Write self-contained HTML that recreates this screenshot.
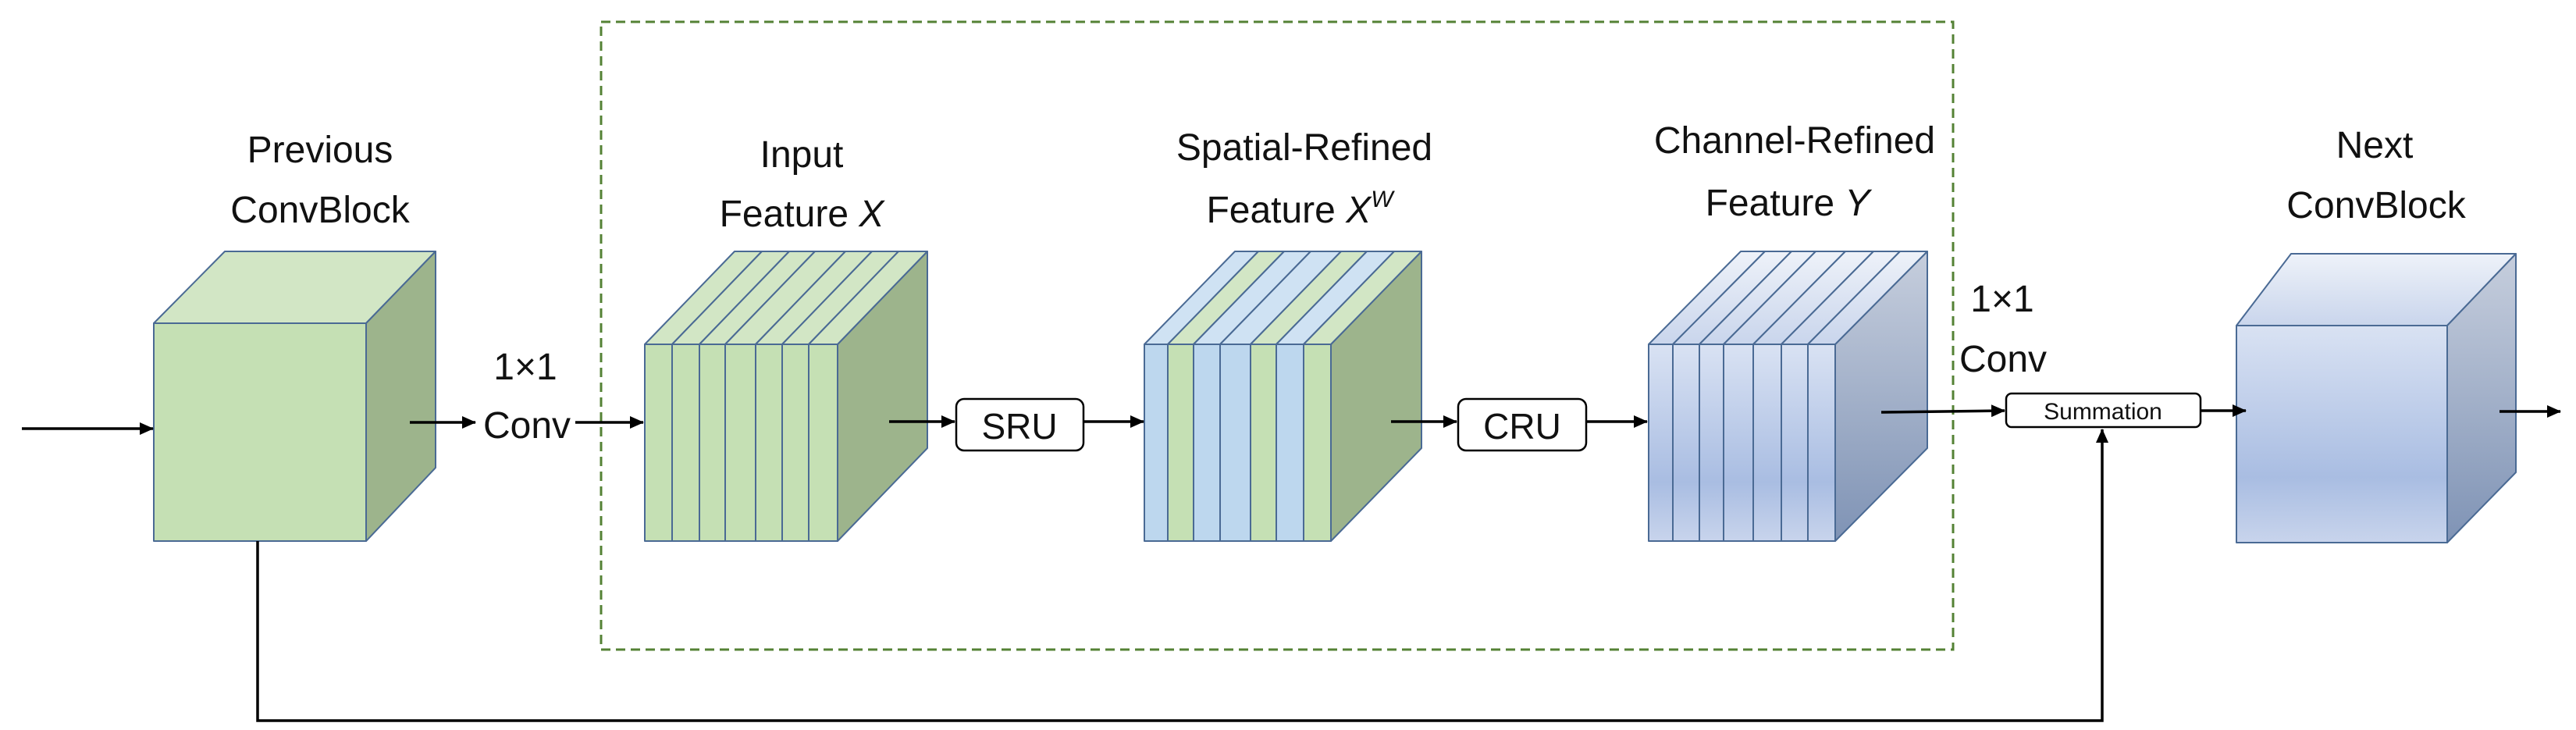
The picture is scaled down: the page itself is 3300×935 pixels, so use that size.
<!DOCTYPE html>
<html><head><meta charset="utf-8"><style>
html,body{margin:0;padding:0;background:#fff;}
svg{display:block;}
text{font-family:"Liberation Sans",sans-serif;fill:#111;}
</style></head><body>
<svg width="3300" height="935" viewBox="0 0 3300 935" xmlns="http://www.w3.org/2000/svg">
<defs>
<marker id="ah" markerWidth="18" markerHeight="16" refX="17" refY="8" orient="auto" markerUnits="userSpaceOnUse" viewBox="0 0 18 16">
<path d="M0,0 L18,8 L0,16 z" fill="#000"/></marker>
<linearGradient id="bf" x1="0" y1="0" x2="0" y2="1">
<stop offset="0" stop-color="#d9e2f3"/><stop offset="0.7" stop-color="#a9bde2"/><stop offset="1" stop-color="#c8d4ec"/></linearGradient>
<linearGradient id="bt" x1="0" y1="1" x2="0" y2="0">
<stop offset="0" stop-color="#c9d5ec"/><stop offset="1" stop-color="#eef2f9"/></linearGradient>
<linearGradient id="br" x1="0" y1="0" x2="0" y2="1">
<stop offset="0" stop-color="#c6cedd"/><stop offset="1" stop-color="#7f93b5"/></linearGradient>
</defs>
<g stroke="#4a6a94" stroke-width="2" stroke-linejoin="round">
<polygon points="197,414 288,322 558,322 469,414" fill="#d2e6c5"/>
<polygon points="469,414 558,322 558,599 469,693" fill="#9db48c"/>
<rect x="197" y="414" width="272" height="279" fill="#c5e0b4"/>
<polygon points="1073,441 1188,322 1188,574 1073,693" fill="#9db48c"/>
<polygon points="1705,441 1821,322 1821,574 1705,693" fill="#9db48c"/>
<polygon points="2351,441 2469,322 2469,574 2351,693" fill="url(#br)"/>
<polygon points="2865,417 2935,325 3223,325 3135,417" fill="url(#bt)"/>
<polygon points="3135,417 3223,325 3223,605 3135,695" fill="url(#br)"/>
<rect x="2865" y="417" width="270" height="278" fill="url(#bf)"/>

<g fill="#d2e6c5">
<polygon points="826,441 941,322 976,322 861,441"/>
<polygon points="861,441 976,322 1011,322 896,441"/>
<polygon points="896,441 1011,322 1044,322 929,441"/>
<polygon points="929,441 1044,322 1083,322 968,441"/>
<polygon points="968,441 1083,322 1117,322 1002,441"/>
<polygon points="1002,441 1117,322 1151,322 1036,441"/>
<polygon points="1036,441 1151,322 1188,322 1073,441"/>
</g>
<g fill="#c5e0b4">
<rect x="826" y="441" width="35" height="252"/>
<rect x="861" y="441" width="35" height="252"/>
<rect x="896" y="441" width="33" height="252"/>
<rect x="929" y="441" width="39" height="252"/>
<rect x="968" y="441" width="34" height="252"/>
<rect x="1002" y="441" width="34" height="252"/>
<rect x="1036" y="441" width="37" height="252"/>
</g>

<polygon points="1466,441 1582,322 1612,322 1496,441" fill="#cfe2f3"/>
<polygon points="1496,441 1612,322 1645,322 1529,441" fill="#d2e6c5"/>
<polygon points="1529,441 1645,322 1679,322 1563,441" fill="#cfe2f3"/>
<polygon points="1563,441 1679,322 1718,322 1602,441" fill="#cfe2f3"/>
<polygon points="1602,441 1718,322 1751,322 1635,441" fill="#d2e6c5"/>
<polygon points="1635,441 1751,322 1786,322 1670,441" fill="#cfe2f3"/>
<polygon points="1670,441 1786,322 1821,322 1705,441" fill="#d2e6c5"/>
<rect x="1466" y="441" width="30" height="252" fill="#bdd7ee"/>
<rect x="1496" y="441" width="33" height="252" fill="#c5e0b4"/>
<rect x="1529" y="441" width="34" height="252" fill="#bdd7ee"/>
<rect x="1563" y="441" width="39" height="252" fill="#bdd7ee"/>
<rect x="1602" y="441" width="33" height="252" fill="#c5e0b4"/>
<rect x="1635" y="441" width="35" height="252" fill="#bdd7ee"/>
<rect x="1670" y="441" width="35" height="252" fill="#c5e0b4"/>

<g fill="url(#bt)">
<polygon points="2112,441 2230,322 2261,322 2143,441"/>
<polygon points="2143,441 2261,322 2295,322 2177,441"/>
<polygon points="2177,441 2295,322 2326,322 2208,441"/>
<polygon points="2208,441 2326,322 2364,322 2246,441"/>
<polygon points="2246,441 2364,322 2400,322 2282,441"/>
<polygon points="2282,441 2400,322 2434,322 2316,441"/>
<polygon points="2316,441 2434,322 2469,322 2351,441"/>
</g>
<g fill="url(#bf)">
<rect x="2112" y="441" width="31" height="252"/>
<rect x="2143" y="441" width="34" height="252"/>
<rect x="2177" y="441" width="31" height="252"/>
<rect x="2208" y="441" width="38" height="252"/>
<rect x="2246" y="441" width="36" height="252"/>
<rect x="2282" y="441" width="34" height="252"/>
<rect x="2316" y="441" width="35" height="252"/>
</g>
</g>
<rect x="770" y="28" width="1732" height="804" fill="none" stroke="#548235" stroke-width="3" stroke-dasharray="12,7"/>
<g stroke="#000" stroke-width="3.5" fill="none">
<line x1="28" y1="549" x2="196" y2="549" marker-end="url(#ah)"/>
<line x1="525" y1="541" x2="609" y2="541" marker-end="url(#ah)"/>
<line x1="737" y1="541" x2="824" y2="541" marker-end="url(#ah)"/>
<line x1="1139" y1="540" x2="1223" y2="540" marker-end="url(#ah)"/>
<line x1="1389" y1="540" x2="1465" y2="540" marker-end="url(#ah)"/>
<line x1="1782" y1="540" x2="1866" y2="540" marker-end="url(#ah)"/>
<line x1="2033" y1="540" x2="2110" y2="540" marker-end="url(#ah)"/>
<line x1="2410" y1="528" x2="2568" y2="526" marker-end="url(#ah)"/>
<line x1="2819" y1="526" x2="2877" y2="526" marker-end="url(#ah)"/>
<line x1="3202" y1="527" x2="3280" y2="527" marker-end="url(#ah)"/>
<polyline points="330,693 330,923 2693,923 2693,550" marker-end="url(#ah)"/>
</g>
<rect x="1225" y="511" width="163" height="66" rx="10" fill="#fff" stroke="#000" stroke-width="2.5"/>
<text x="1306" y="562" font-size="46" text-anchor="middle">SRU</text>
<rect x="1868" y="511" width="164" height="66" rx="10" fill="#fff" stroke="#000" stroke-width="2.5"/>
<text x="1950" y="562" font-size="46" text-anchor="middle">CRU</text>
<rect x="2570" y="504" width="249" height="43" rx="7" fill="#fff" stroke="#000" stroke-width="2.5"/>
<text x="2694" y="537" font-size="30" text-anchor="middle">Summation</text>
<g font-size="48" text-anchor="middle">
<text x="410" y="208">Previous</text>
<text x="410" y="285">ConvBlock</text>
<text x="673" y="486">1×1</text>
<text x="675" y="561">Conv</text>
<text x="1027" y="214">Input</text>
<text x="1027" y="290">Feature <tspan font-style="italic">X</tspan></text>
<text x="1671" y="205">Spatial-Refined</text>
<text x="1665" y="285">Feature <tspan font-style="italic">X</tspan><tspan font-style="italic" font-size="30" dy="-20">W</tspan></text>
<text x="2299" y="196">Channel-Refined</text>
<text x="2290" y="276">Feature <tspan font-style="italic">Y</tspan></text>
<text x="2565" y="399">1×1</text>
<text x="2566" y="476">Conv</text>
<text x="3042" y="202">Next</text>
<text x="3044" y="279">ConvBlock</text>
</g>
</svg>
</body></html>
